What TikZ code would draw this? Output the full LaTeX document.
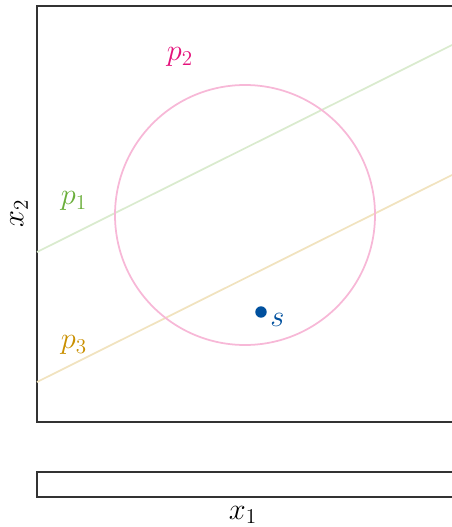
\documentclass[tikz,border=0pt]{standalone}
\usepackage{tikz}
\definecolor{planeGreen}{HTML}{6AAE3A}
\definecolor{planeMagenta}{HTML}{E4117B}
\definecolor{planeOrange}{HTML}{C98F00}
\definecolor{pointBlue}{HTML}{00509E}
\tikzset{
    pframe/.style={draw=black!80, line width=0.6pt},
    pline/.style={line width=1pt},
    plabel/.style={font=\LARGE, inner sep=0pt},
    pdot/.style={circle, fill=pointBlue, minimum size=6.5pt, inner sep=0pt}
}
\begin{document}
\begin{tikzpicture}[x=0.02cm, y=-0.02cm]
            \useasboundingbox (0,0) rectangle (452,527);
            \clip (0,0) rectangle (452,527);
            % frames
            \draw[pframe] (37,6) rectangle (480,422);
            \draw[pframe] (37,472) rectangle (480,497);
            % planes
            \draw[pline, planeGreen!25] (37,252) -- (452,45);
            \draw[pline, planeOrange!25] (37,382) -- (452,175);
            \draw[pline, planeMagenta!30] (245,215) circle (130);
            % labels
            \node[plabel, text=planeGreen] (p1) at (74,201) {$p_1$};
            \node[plabel, text=planeMagenta] (p2) at (180,57) {$p_2$};
            \node[plabel, text=planeOrange] (p3) at (74,345) {$p_3$};
            \node[pdot] (s) at (261,312) {};
            \node[plabel, text=pointBlue, anchor=west] (slabel) at (270,320) {$s$};
            \node[plabel] (x1) at (243,515) {$x_1$};
            \node[plabel, rotate=90] (x2) at (19,213) {$x_2$};
        \end{tikzpicture}
\end{document}
